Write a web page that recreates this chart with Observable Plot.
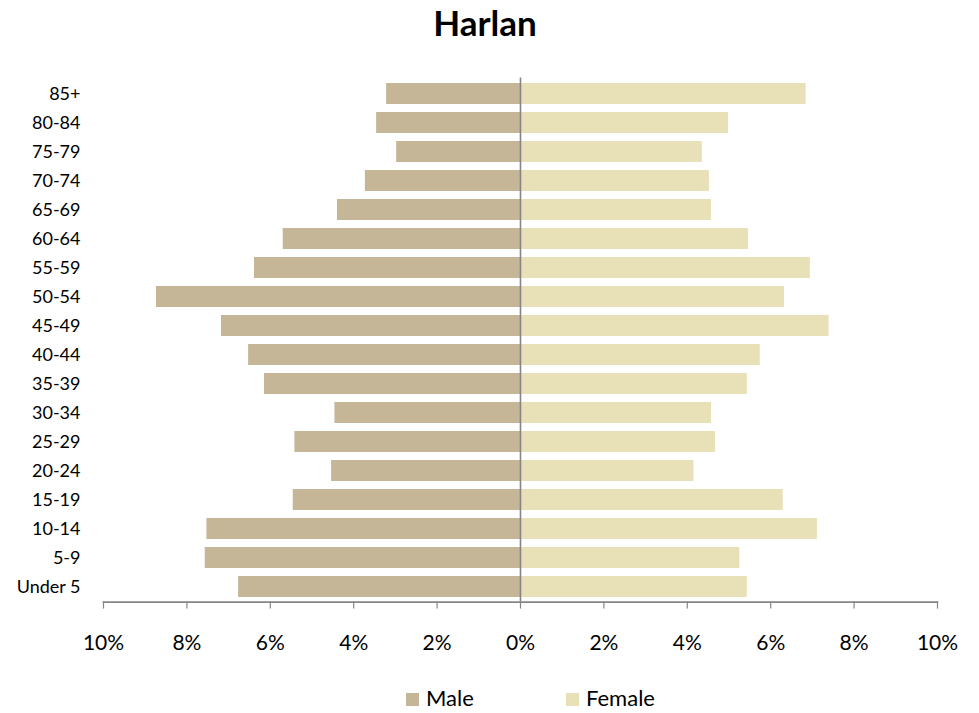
<!DOCTYPE html>
<html>
<head>
<meta charset="utf-8">
<script src="https://cdn.jsdelivr.net/npm/d3@7"></script>
<script src="https://cdn.jsdelivr.net/npm/@observablehq/plot@0.6"></script>
<style>
  body { margin: 0; background: #fff; }
  #wrap { position: relative; width: 979px; height: 713px; font-family: Lato, "Open Sans", sans-serif; }
  #title { position: absolute; left: 0; width: 970px; top: 5px; text-align: center; font-weight: bold; font-size: 35px; line-height: 1; color: #000; }
  #chart { position: absolute; left: 0; top: 0; }
  .lg { position: absolute; top: 687px; font-size: 22px; line-height: 1; color: #000; }
  .sw { position: absolute; width: 13px; height: 13px; top: 693px; }
</style>
</head>
<body>
<div id="wrap">
  <div id="chart"></div>
  <div id="title">Harlan</div>
  <div class="sw" style="left:406px;background:#C4B696"></div>
  <div class="lg" style="left:426px">Male</div>
  <div class="sw" style="left:566px;background:#E8E1B7"></div>
  <div class="lg" style="left:586px">Female</div>
</div>
<script>
const ageGroups = ["85+","80-84","75-79","70-74","65-69","60-64","55-59","50-54","45-49","40-44","35-39","30-34","25-29","20-24","15-19","10-14","5-9","Under 5"];
const maleValues = [3.21,3.45,2.97,3.72,4.39,5.69,6.38,8.73,7.17,6.52,6.14,4.45,5.41,4.53,5.45,7.52,7.56,6.76];
const femaleValues = [6.85,4.99,4.36,4.53,4.58,5.47,6.95,6.33,7.40,5.75,5.44,4.58,4.68,4.16,6.30,7.12,5.26,5.44];
const xTicks = [-10,-8,-6,-4,-2,0,2,4,6,8,10];

const male = ageGroups.map((age, i) => ({age, value: -maleValues[i]}));
const female = ageGroups.map((age, i) => ({age, value: femaleValues[i]}));

const W = 979, H = 713;
const plotTop = 77.4, plotBottom = 601.6;

const plot = Plot.plot({
  width: W,
  height: H,
  marginTop: plotTop,
  marginBottom: H - plotBottom,
  marginLeft: 103,
  marginRight: 42,
  style: { fontFamily: "Lato, 'Open Sans', sans-serif", background: "transparent" },
  x: { domain: [-10, 10] },
  y: { domain: ageGroups, paddingInner: 0.28, paddingOuter: 0.14 },
  marks: [
    Plot.barX(male, { x: "value", y: "age", fill: "#C4B696" }),
    Plot.barX(female, { x: "value", y: "age", fill: "#E8E1B7" }),
    Plot.ruleX([0], { stroke: "#868686", strokeWidth: 1.6 }),
    Plot.frame({ anchor: "bottom", stroke: "#868686", strokeWidth: 1.6 }),
    Plot.axisX({ ticks: xTicks, tickFormat: d => Math.abs(d) + "%", tickSize: 7, tickPadding: 25.5, stroke: "#868686", strokeWidth: 1.2, fontSize: 21, fill: "#000", label: null }),
    Plot.axisY({ tickSize: 0, tickPadding: 23, fontSize: 18, fill: "#000", label: null })
  ]
});
document.getElementById("chart").appendChild(plot);
</script>
</body>
</html>
